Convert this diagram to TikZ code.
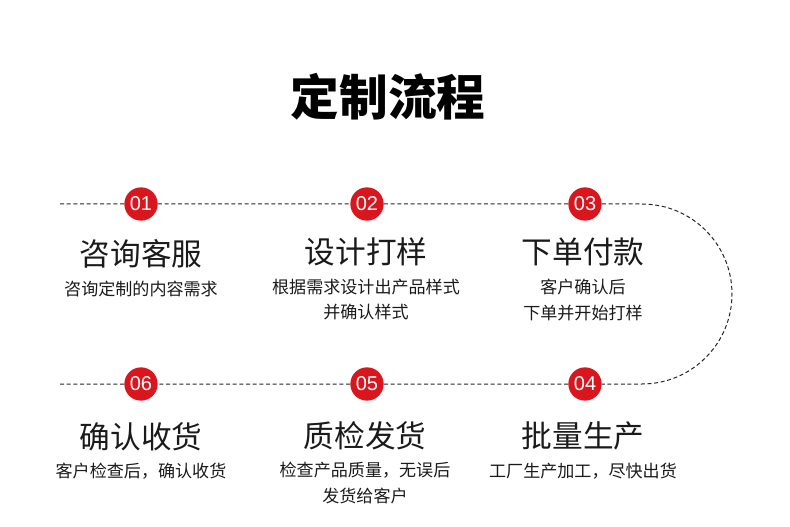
\documentclass[tikz,border=0pt]{standalone}
\usepackage{fontspec}
\newfontfamily\cjk{Noto Sans CJK SC}
\newfontfamily\numfont{Liberation Sans}
\usepackage{tikz}
\usetikzlibrary{positioning}
\definecolor{stepred}{HTML}{D9161E}
\definecolor{txtdark}{HTML}{1A1A1A}

\begin{document}
\begin{tikzpicture}[
  x=0.75pt, y=0.75pt,
  num/.style={circle, fill=stepred, inner sep=0pt, minimum size=25pt, text=white, font=\numfont\fontsize{15}{15}\selectfont},
  head/.style={text=txtdark, font=\cjk\fontsize{23}{24}\selectfont, inner sep=0pt},
  sub/.style={text=txtdark, font=\cjk\fontsize{12.8}{19}\selectfont, inner sep=0pt, align=center},
  route/.style={dash pattern=on 3pt off 2pt, line width=0.75pt, draw=black!85}
]
\useasboundingbox (0,0) rectangle (790,526);

% --- Titulo ---
\node[font=\cjk\bfseries\fontsize{36.5}{40}\selectfont, inner sep=0pt] (title) at (388,429) {定制流程};

% --- Pasos ---
\node[num] (c1) at (141,322) {01};
\node[num] (c2) at (367,322) {02};
\node[num] (c3) at (585,322) {03};
\node[num] (c4) at (585,142) {04};
\node[num] (c5) at (367,142) {05};
\node[num] (c6) at (141,142) {06};

% Linea punteada
\coordinate (ls1) at (60,322);
\coordinate (ar1) at (642,322);
\coordinate (ar2) at (642,142);
\coordinate (ls2) at (60,142);
\draw[route] (ls1) -- (c1) (c1) -- (c2) (c2) -- (c3) (c3) -- (ar1)
  arc[start angle=90, end angle=-90, radius=90] -- (c4)
  (c4) -- (c5) (c5) -- (c6) (c6) -- (ls2);

% Textos arriba
\node[head] (h1) at (141,272) {咨询客服};
\node[sub]  (s1) at (141,237) {咨询定制的内容需求};
\node[head] (h2) at (366,274) {设计打样};
\node[sub, anchor=north] (s2) at (366,247) {根据需求设计出产品样式\\并确认样式};
\node[head] (h3) at (583,274) {下单付款};
\node[sub, anchor=north] (s3) at (583,247) {客户确认后\\下单并开始打样};

% Textos abajo
\node[head] (h6) at (141,89) {确认收货};
\node[sub]  (s6) at (141,55) {客户检查后，确认收货};
\node[head] (h5) at (365,90) {质检发货};
\node[sub, anchor=north] (s5) at (365,64) {检查产品质量，无误后\\发货给客户};
\node[head] (h4) at (583,90) {批量生产};
\node[sub]  (s4) at (583,55) {工厂生产加工，尽快出货};
\end{tikzpicture}
\end{document}
